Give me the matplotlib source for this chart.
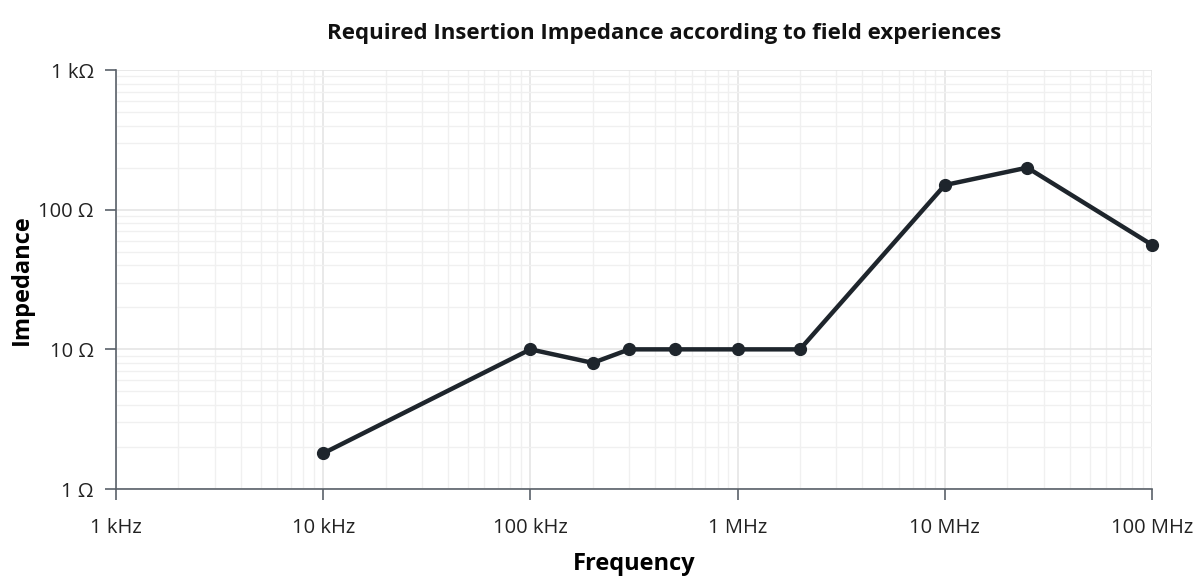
import numpy as np
import matplotlib.pyplot as plt
from matplotlib.ticker import FixedLocator, LogLocator, NullFormatter

# Required insertion impedance per frequency (Hz -> Ohm)
freq_hz = [1e4, 1e5, 2e5, 3e5, 5e5, 1e6, 2e6, 1e7, 2.5e7, 1e8]
impedance_ohm = [1.8, 10, 8, 10, 10, 10, 10, 150, 200, 56]

x_ticks = [1e3, 1e4, 1e5, 1e6, 1e7, 1e8]
x_tick_labels = ["1 kHz", "10 kHz", "100 kHz", "1 MHz", "10 MHz", "100 MHz"]
y_ticks = [1, 10, 100, 1000]
y_tick_labels = ["1 \u03a9", "10 \u03a9", "100 \u03a9", "1 k\u03a9"]

plt.rcParams['font.family'] = ['Open Sans', 'DejaVu Sans']

fig = plt.figure(figsize=(11.98, 5.79), dpi=100)
ax = fig.add_axes([0.0968, 0.1554, 0.8648, 0.7237])

line_col = '#1e252c'
ax.plot(freq_hz, impedance_ohm, color=line_col, lw=3.2, marker='o',
        markersize=8.5, zorder=5, clip_on=False)

ax.set_xscale('log')
ax.set_yscale('log')
ax.set_xlim(1e3, 1e8)
ax.set_ylim(1, 1000)

ax.xaxis.set_major_locator(FixedLocator(x_ticks))
ax.set_xticklabels(x_tick_labels)
ax.yaxis.set_major_locator(FixedLocator(y_ticks))
ax.set_yticklabels(y_tick_labels)
ax.xaxis.set_minor_locator(LogLocator(base=10, subs=np.arange(2, 10)))
ax.yaxis.set_minor_locator(LogLocator(base=10, subs=np.arange(2, 10)))
ax.xaxis.set_minor_formatter(NullFormatter())
ax.yaxis.set_minor_formatter(NullFormatter())

ax.grid(which='major', color='#e3e3e3', lw=1.1)
ax.grid(which='minor', color='#f0f0f0', lw=1.0)
ax.set_axisbelow(True)

for s in ['top', 'right']:
    ax.spines[s].set_visible(False)
for s in ['left', 'bottom']:
    ax.spines[s].set_color('#5a6169')
    ax.spines[s].set_linewidth(1.2)

ax.tick_params(which='major', length=8, width=1.2, color='#5a6169',
               labelsize=14.5, labelcolor='#222222', pad=8)
ax.tick_params(which='minor', length=0)
ax.tick_params(axis='x', pad=13)

ax.set_title("Required Insertion Impedance according to field experiences",
             fontsize=16, fontweight='bold', pad=22, color='#111111',
             x=0.529)
ax.set_xlabel("Frequency", fontsize=17, fontweight='bold', labelpad=10)
ax.set_ylabel("Impedance", fontsize=17, fontweight='bold', labelpad=3)

fig.savefig("out.png", dpi=100, facecolor='white')
